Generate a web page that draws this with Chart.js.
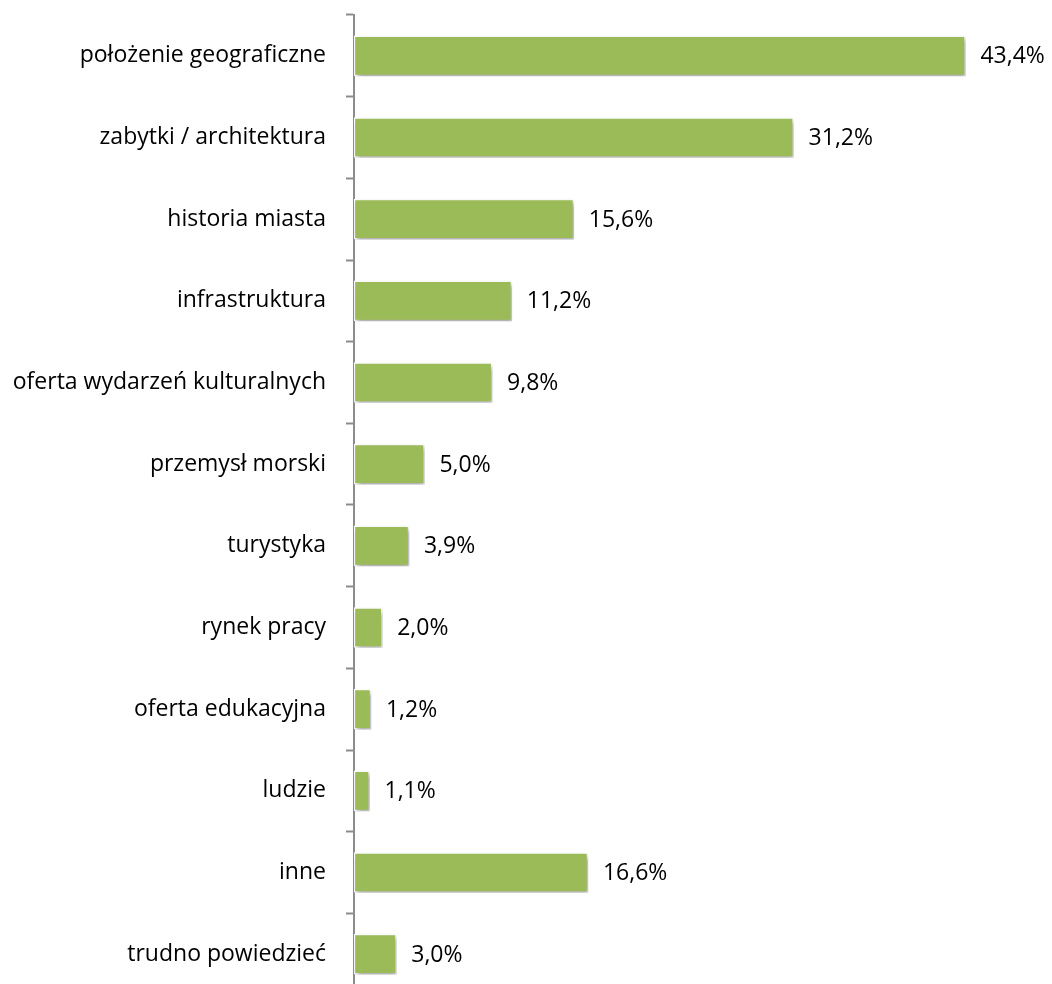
<!DOCTYPE html>
<html>
<head>
<meta charset="utf-8">
<script src="https://cdn.jsdelivr.net/npm/chart.js@4/dist/chart.umd.min.js"></script>
<style>
  html, body { margin: 0; padding: 0; background: #fff; overflow: hidden; }
  #wrap { width: 1052px; height: 1000px; position: relative; }
</style>
</head>
<body>
<div id="wrap"><canvas id="c" width="1052" height="1000"></canvas></div>
<script>
const categories = [
  'położenie geograficzne',
  'zabytki / architektura',
  'historia miasta',
  'infrastruktura',
  'oferta wydarzeń kulturalnych',
  'przemysł morski',
  'turystyka',
  'rynek pracy',
  'oferta edukacyjna',
  'ludzie',
  'inne',
  'trudno powiedzieć'
];
const values = [43.4, 31.2, 15.6, 11.2, 9.8, 5.0, 3.9, 2.0, 1.2, 1.1, 16.6, 3.0];

const FONT = '"Open Sans", Lato, sans-serif';
const FONT_SIZE = 23;

// Soft drop shadow under the bars
const barShadow = {
  id: 'barShadow',
  beforeDatasetsDraw(chart) {
    const ctx = chart.ctx;
    ctx.save();
    ctx.shadowColor = 'rgba(0,0,0,0.35)';
    ctx.shadowOffsetX = 2;
    ctx.shadowOffsetY = 3;
    ctx.shadowBlur = 5;
  },
  afterDatasetsDraw(chart) {
    chart.ctx.restore();
  }
};

// Percentage labels to the right of each bar
const valueLabels = {
  id: 'valueLabels',
  afterDatasetsDraw(chart) {
    const ctx = chart.ctx;
    const meta = chart.getDatasetMeta(0);
    ctx.save();
    ctx.shadowColor = 'transparent';
    ctx.font = FONT_SIZE + 'px ' + FONT;
    ctx.fillStyle = '#000';
    ctx.textAlign = 'left';
    ctx.textBaseline = 'middle';
    meta.data.forEach((bar, i) => {
      const txt = values[i].toFixed(1).replace('.', ',') + '%';
      ctx.fillText(txt, bar.x + 15, bar.y + 1);
    });
    ctx.restore();
  }
};

new Chart(document.getElementById('c'), {
  type: 'bar',
  data: {
    labels: categories,
    datasets: [{
      data: values,
      backgroundColor: '#9BBB59',
      borderColor: '#ffffff',
      borderWidth: 1.5,
      borderSkipped: false,
      barThickness: 40
    }]
  },
  options: {
    indexAxis: 'y',
    responsive: false,
    animation: false,
    events: [],
    layout: { padding: { top: 15, right: 64, bottom: 5, left: 0 } },
    plugins: {
      legend: { display: false },
      tooltip: { enabled: false }
    },
    scales: {
      x: {
        display: false,
        min: 0,
        max: 45
      },
      y: {
        offset: true,
        afterFit(scale) {
          scale.width = 354;
          scale.paddingTop = 0;
          scale.paddingBottom = 0;
        },
        grid: {
          offset: true,
          drawOnChartArea: false,
          drawTicks: true,
          tickLength: 8,
          tickWidth: 2,
          tickColor: '#8c8c8c'
        },
        border: { display: true, color: '#8c8c8c', width: 2 },
        ticks: {
          color: '#000',
          padding: 20,
          font: { family: FONT, size: FONT_SIZE }
        }
      }
    }
  },
  plugins: [barShadow, valueLabels]
});
</script>
</body>
</html>
